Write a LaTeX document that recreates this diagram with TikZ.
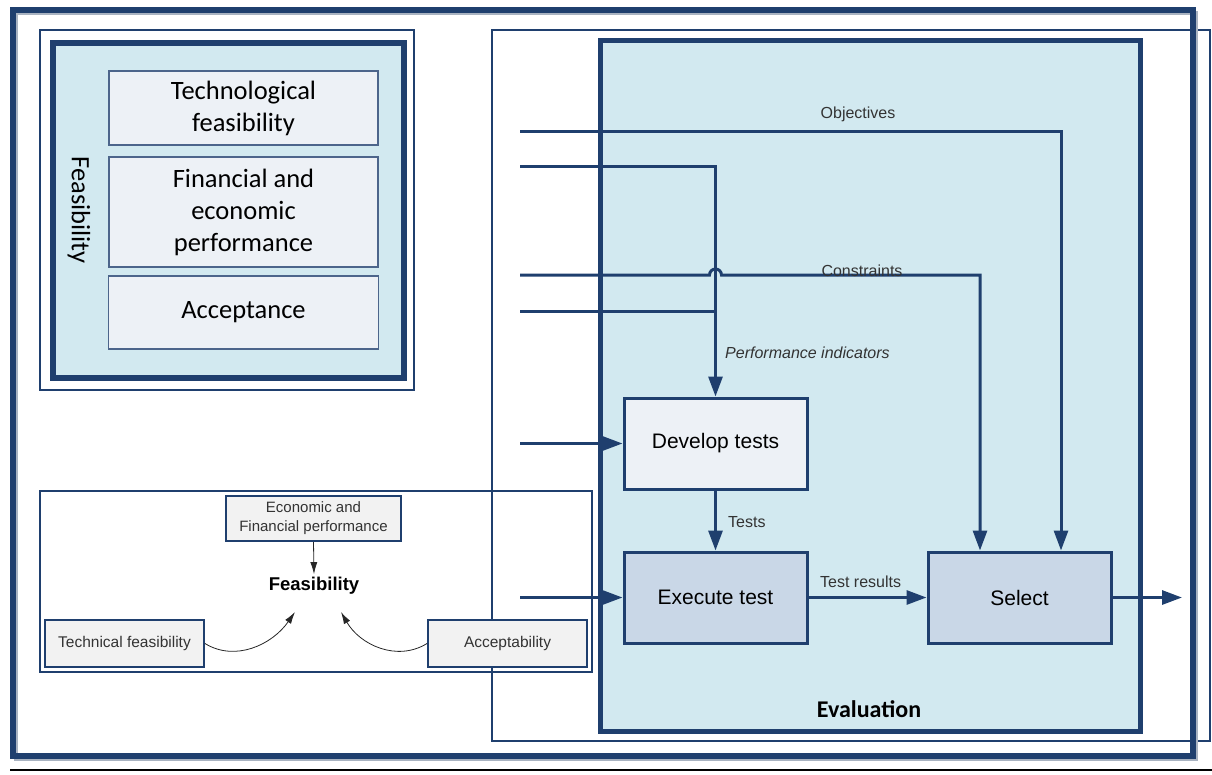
\documentclass[tikz,border=0pt]{standalone}
\usepackage{fontspec}
\setmainfont{Liberation Sans}
\newfontfamily\calfont{Carlito}
\usetikzlibrary{arrows.meta}
\definecolor{EvalNavy}{HTML}{1F3F6E}
\definecolor{EvalAqua}{HTML}{D2E9F0}
\definecolor{BoxPale}{HTML}{EDF1F6}
\definecolor{BoxSteel}{HTML}{C9D7E7}
\definecolor{BoxGrey}{HTML}{F2F2F2}
\definecolor{FrameShade}{HTML}{A9B3C1}
\definecolor{LabelGrey}{HTML}{333333}

\tikzset{
  flow/.style={EvalNavy,line width=3pt,-{Triangle[length=20pt,width=14pt]}},
  flowline/.style={EvalNavy,line width=3pt},
  thinframe/.style={draw=EvalNavy,line width=1.3pt},
  stepbox/.style={draw=EvalNavy,line width=3pt,minimum width=183pt,minimum height=91pt,inner sep=0pt,font=\fontsize{21}{25}\selectfont},
  featbox/.style={draw=EvalNavy!80,line width=1.2pt,fill=BoxPale,inner sep=0pt,align=center,font=\calfont\fontsize{26.5}{32}\selectfont},
  factbox/.style={draw=EvalNavy,line width=2pt,fill=BoxGrey,inner sep=0pt,align=center,text=LabelGrey,font=\fontsize{15}{19}\selectfont},
  flowlabel/.style={text=LabelGrey,font=\fontsize{16}{19}\selectfont,inner sep=0pt},
  factarrow/.style={black!85,line width=0.8pt,-{Latex[length=12pt,width=7pt]}},
}

\begin{document}
\begin{tikzpicture}[x=1pt,y=-1pt]
  \useasboundingbox (0,0) rectangle (1212,774);
  \draw[thinframe] (492,30) rectangle (1210,741);
  \draw[EvalNavy,line width=5pt,fill=EvalAqua] (600,40) rectangle (1140,731);
  \node[font=\calfont\bfseries\fontsize{24}{28}\selectfont] (evaltitle) at (869,709) {Evaluation};

  \draw[thinframe] (40,30) rectangle (414,390);
  \draw[EvalNavy,line width=5.5pt,fill=EvalAqua] (53,43) rectangle (404,378);
  \node[rotate=-90,font=\calfont\fontsize{26.5}{32}\selectfont] (feastitle) at (79,210) {Feasibility};
  \node[featbox,minimum width=269pt,minimum height=74pt] (techfeas) at (243.5,108) {Technological\\feasibility};
  \node[featbox,minimum width=269pt,minimum height=110pt] (finperf) at (243.5,212) {Financial and\\economic\\performance};
  \node[featbox,minimum width=270pt,minimum height=73pt] (accept) at (243.5,312.5) {Acceptance};

  \draw[thinframe] (40,491) rectangle (592,672);
  \node[factbox,minimum width=175pt,minimum height=45pt] (econ) at (313.5,518.5) {Economic and\\Financial performance};
  \node[font=\bfseries\fontsize{18.5}{22}\selectfont,inner sep=3pt] (fz) at (314,586) {Feasibility};
  \node[factbox,minimum width=159pt,minimum height=47pt,font=\fontsize{15.5}{19}\selectfont] (techn) at (124.5,643.5) {Technical feasibility};
  \node[factbox,minimum width=159pt,minimum height=47pt,font=\fontsize{15.5}{19}\selectfont] (acc) at (507.5,643.5) {Acceptability};
  \coordinate (fzl) at (295,612);
  \coordinate (fzr) at (341,612);
  \draw[factarrow] (econ.south) -- (fz.north);
  \draw[factarrow] (techn.east) .. controls (235,662) and (272,645) .. (fzl);
  \draw[factarrow] (acc.west) .. controls (397,662) and (360,645) .. (fzr);

  \draw[FrameShade,line width=4pt] (16,13) rectangle (1196,759);
  \draw[EvalNavy,line width=6pt] (13,10) rectangle (1193,756);
  \draw[black,line width=2pt] (10,770) -- (1212,770);

  \node[stepbox,fill=BoxPale] (dev) at (715.5,443.5) {Develop tests};
  \node[stepbox,fill=BoxSteel] (exe) at (715.5,597.5) {Execute test};
  \node[stepbox,fill=BoxSteel] (sel) at (1019.5,597.5) {Select};

  \coordinate (obj) at (520,131);
  \coordinate (pin) at (520,166);
  \coordinate (con) at (520,275);
  \coordinate (pin2) at (520,311);
  \coordinate (devin) at (520,443.5);
  \coordinate (exein) at (520,597.5);
  \coordinate (out) at (1182,597.5);

  \draw[flow] (obj) -| ([xshift=41.5pt]sel.north);
  \draw[flow] (pin) -| (dev.north);
  \draw[flow] (con) -- ([xshift=-6pt]con -| dev.north) arc[start angle=180,end angle=0,radius=6pt] -| ([xshift=-39.5pt]sel.north);
  \draw[flowline] (pin2) -- (pin2 -| dev.north);
  \draw[flow] (devin) -- (dev.west);
  \draw[flow] (exein) -- (exe.west);
  \draw[flow] (dev.south) -- (exe.north);
  \draw[flow] (exe.east) -- (sel.west);
  \draw[flow] (sel.east) -- (out);

  \node[flowlabel,anchor=base] (objlabel) at (858,118) {Objectives};
  \node[flowlabel,anchor=base] (conlabel) at (862,276) {Constraints};
  \node[flowlabel,anchor=base west,font=\itshape\fontsize{16}{19}\selectfont] (pilabel) at (725,358) {Performance indicators};
  \node[flowlabel,anchor=base west] (testslabel) at (728,527) {Tests};
  \node[flowlabel,anchor=base west] (reslabel) at (820,587) {Test results};
\end{tikzpicture}
\end{document}
